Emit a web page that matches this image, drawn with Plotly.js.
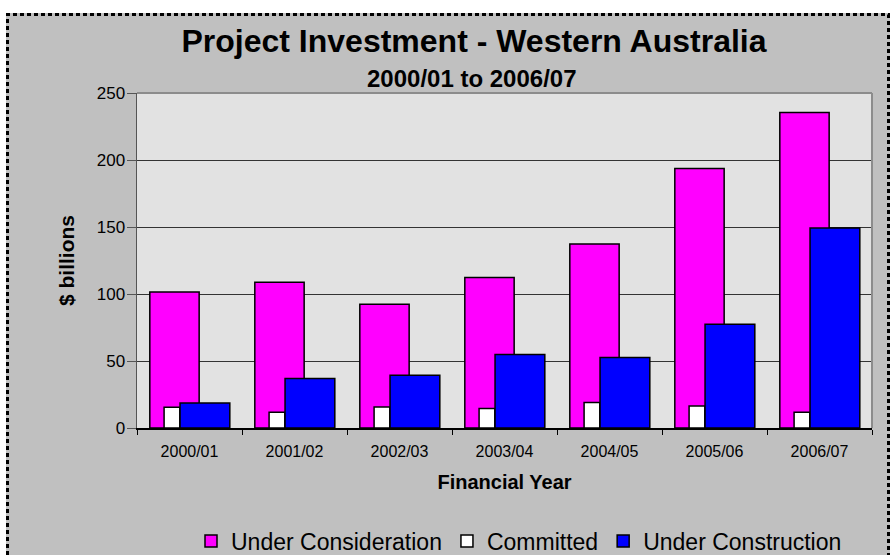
<!DOCTYPE html>
<html>
<head>
<meta charset="utf-8">
<script src="https://cdn.plot.ly/plotly-3.0.1.min.js"></script>
<style>
html,body{margin:0;padding:0;background:#ffffff;}
#chart{width:895px;height:555px;}
</style>
</head>
<body>
<div id="chart"></div>
<script>
// ---- data ----
var years = ["2000/01","2001/02","2002/03","2003/04","2004/05","2005/06","2006/07"];
var underConsideration = [101.4, 108.7, 92.3, 112.4, 137.3, 193.6, 235.5];
var committed = [15.5, 11.7, 15.7, 14.5, 19.0, 16.5, 11.7];
var underConstruction = [18.7, 36.9, 39.4, 54.9, 52.6, 77.5, 149.3];
var seriesNames = ["Under Consideration", "Committed", "Under Construction"];

// ---- layout geometry ----
var W = 895, H = 555;
var M = {l: 137, r: 23, t: 93, b: 127, autoexpand: false};
var PW = W - M.l - M.r, PH = H - M.t - M.b;
function px(x){ return (x - M.l) / PW; }
function py(y){ return (H - M.b - y) / PH; }

var FONT = "Liberation Sans, Arial, sans-serif";
var lineStyle = {color: "#000000", width: 1.5};

var traces = [
  {type: "bar", name: seriesNames[0], x: years, y: underConsideration,
   marker: {color: "#FF00FF", line: lineStyle}, offset: -0.378, width: 0.47},
  {type: "bar", name: seriesNames[1], x: years, y: committed,
   marker: {color: "#FFFFFF", line: lineStyle}, offset: -0.242, width: 0.15},
  {type: "bar", name: seriesNames[2], x: years, y: underConstruction,
   marker: {color: "#0000FF", line: lineStyle}, offset: -0.09, width: 0.474}
];

var shapes = [
  // white surround outside the dashed frame
  {type: "rect", xref: "paper", yref: "paper", x0: px(-20), x1: px(6), y0: py(600), y1: py(-20),
   fillcolor: "#ffffff", line: {width: 0}, layer: "above"},
  {type: "rect", xref: "paper", yref: "paper", x0: px(-20), x1: px(920), y0: py(13), y1: py(-20),
   fillcolor: "#ffffff", line: {width: 0}, layer: "above"},
  {type: "rect", xref: "paper", yref: "paper", x0: px(890), x1: px(920), y0: py(600), y1: py(-20),
   fillcolor: "#ffffff", line: {width: 0}, layer: "above"},
  // dashed frame
  {type: "rect", xref: "paper", yref: "paper", x0: px(7.5), x1: px(888.5), y0: py(600), y1: py(14.5),
   line: {color: "#000000", width: 3, dash: "4px,3px"}, layer: "above"},
  // plot-area top and right border
  {type: "line", xref: "paper", yref: "paper", x0: 0, x1: 1, y0: 1, y1: 1,
   line: {color: "#8c8c8c", width: 2}, layer: "above"},
  {type: "line", xref: "paper", yref: "paper", x0: 1, x1: 1, y0: 0, y1: 1,
   line: {color: "#8c8c8c", width: 2}, layer: "above"}
];

var layout = {
  width: W, height: H,
  margin: M,
  paper_bgcolor: "#C0C0C0",
  plot_bgcolor: "#E2E2E2",
  barmode: "overlay",
  showlegend: true,
  font: {family: FONT, color: "#000000"},
  title: {
    text: "<b>Project Investment - Western Australia</b>",
    font: {family: FONT, size: 32, color: "#000000"},
    x: 474 / W, xanchor: "center",
    y: 1 - 41 / H, yanchor: "middle"
  },
  annotations: [
    {text: "<b>2000/01 to 2006/07</b>", xref: "paper", yref: "paper",
     x: px(472), y: py(78), xanchor: "center", yanchor: "middle", showarrow: false,
     font: {family: FONT, size: 24, color: "#000000"}}
  ],
  xaxis: {
    type: "category",
    range: [-0.5, 6.5],
    showgrid: false,
    showline: true, linecolor: "#000000", linewidth: 1.5,
    ticks: "outside", tickson: "boundaries", ticklen: 5, tickcolor: "#000000", tickwidth: 1,
    ticklabelstandoff: 8,
    tickfont: {family: FONT, size: 16, color: "#000000"},
    title: {text: "<b>Financial Year</b>", font: {family: FONT, size: 20, color: "#000000"}, standoff: 16},
    fixedrange: true, automargin: false
  },
  yaxis: {
    range: [0, 250], dtick: 50, tick0: 0,
    showgrid: true, gridcolor: "#333333", gridwidth: 1,
    zeroline: false,
    showline: true, linecolor: "#555555", linewidth: 1.5,
    ticks: "outside", ticklen: 9, tickcolor: "#555555", tickwidth: 1,
    ticklabelstandoff: -2,
    tickfont: {family: FONT, size: 17, color: "#000000"},
    title: {text: "<b>$ billions</b>", font: {family: FONT, size: 21, color: "#000000"}, standoff: 16},
    fixedrange: true, automargin: false
  },
  legend: {
    orientation: "h",
    x: px(519), xanchor: "center",
    y: py(541), yanchor: "middle",
    bgcolor: "rgba(0,0,0,0)",
    font: {family: FONT, size: 23, color: "#000000"},
    traceorder: "normal",
    itemclick: false, itemdoubleclick: false
  },
  shapes: shapes
};

Plotly.newPlot("chart", traces, layout, {displayModeBar: false, staticPlot: true});
</script>
</body>
</html>
